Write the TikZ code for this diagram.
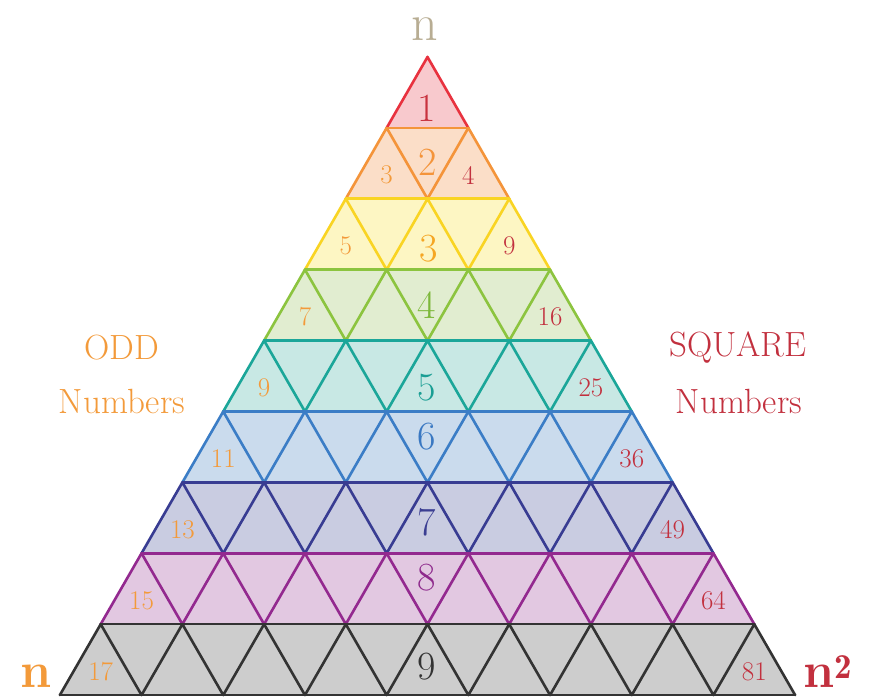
\documentclass[tikz,border=0pt]{standalone}
\usepackage{fontspec}
\definecolor{s1}{HTML}{E8323F}\definecolor{f1}{HTML}{F8C9CD}
\definecolor{s2}{HTML}{F4943A}\definecolor{f2}{HTML}{FBDEC8}
\definecolor{s3}{HTML}{F9D423}\definecolor{f3}{HTML}{FDF6C3}
\definecolor{s4}{HTML}{8CC43F}\definecolor{f4}{HTML}{E1EDD0}
\definecolor{s5}{HTML}{1BA699}\definecolor{f5}{HTML}{C8E8E4}
\definecolor{s6}{HTML}{3B7DC6}\definecolor{f6}{HTML}{CADBED}
\definecolor{s7}{HTML}{383C92}\definecolor{f7}{HTML}{C9CCE1}
\definecolor{s8}{HTML}{93298F}\definecolor{f8}{HTML}{E2C8E1}
\definecolor{s9}{HTML}{333333}\definecolor{f9}{HTML}{CDCDCD}
\definecolor{t1}{HTML}{C8323E}\definecolor{t2}{HTML}{F4943A}
\definecolor{t3}{HTML}{F5A623}\definecolor{t4}{HTML}{7DB83A}
\definecolor{t5}{HTML}{1A9E94}\definecolor{t6}{HTML}{3A78C2}
\definecolor{t7}{HTML}{3B3E92}\definecolor{t8}{HTML}{8E2A8C}
\definecolor{t9}{HTML}{333333}
\definecolor{oddc}{HTML}{F39A3A}
\definecolor{sqc}{HTML}{C2303E}
\definecolor{topn}{HTML}{B8AD93}
\begin{document}
\begin{tikzpicture}[x=1pt,y=1pt,
  tri/.style={line width=2.6pt,line join=round,line cap=round},
  bignum/.style={font=\fontsize{40}{40}\selectfont,inner sep=0pt},
  sidenum/.style={font=\fontsize{27}{27}\selectfont,inner sep=0pt},
  lab/.style={font=\fontsize{35}{35}\selectfont,inner sep=0pt}]
\useasboundingbox[fill=white] (0,0) rectangle (879,698);
\def\cx{427.5}\def\w{81.7}\def\h{70.9}
\foreach \k in {1,...,9}{
  \pgfmathsetmacro\yt{641-(\k-1)*\h}
  \pgfmathsetmacro\yb{\yt-\h}
  \pgfmathsetmacro\xtl{\cx-(\k-1)*\w/2}
  \pgfmathsetmacro\xtr{\cx+(\k-1)*\w/2}
  \pgfmathsetmacro\xbl{\cx-\k*\w/2}
  \pgfmathsetmacro\xbr{\cx+\k*\w/2}
  \fill[fill=f\k] (\xbl,\yb) -- (\xbr,\yb) -- (\xtr,\yt) -- (\xtl,\yt) -- cycle;
  \draw[tri,draw=s\k] (\xtl,\yt) -- (\xtr,\yt);
  \draw[tri,draw=s\k] (\xbl,\yb) -- (\xbr,\yb);
  \draw[tri,draw=s\k] (\xbl,\yb) \foreach \j in {1,...,\k}{ -- ({\xbl+(\j-0.5)*\w},\yt) -- ({\xbl+\j*\w},\yb) };
}
% centre numbers
\node[bignum,text=t1] (c1) at (427,590) {1};
\node[bignum,text=t2] (c2) at (428,536) {2};
\node[bignum,text=t3] (c3) at (429,449) {3};
\node[bignum,text=t4] (c4) at (427,393) {4};
\node[bignum,text=t5] (c5) at (427,310) {5};
\node[bignum,text=t6] (c6) at (427,261) {6};
\node[bignum,text=t7] (c7) at (427,176) {7};
\node[bignum,text=t8] (c8) at (427,120) {8};
\node[bignum,text=t9] (c9) at (427,31) {9};
% odd numbers
\foreach \k/\v in {2/3,3/5,4/7,5/9,6/11,7/13,8/15,9/17}{
  \node[sidenum,text=oddc] (o\k) at ({\cx-(\k-1)*\w/2},{641-\k*\h+\h/3}) {\v};
}
% square numbers
\foreach \k/\v in {2/4,3/9,4/16,5/25,6/36,7/49,8/64,9/81}{
  \node[sidenum,text=sqc] (q\k) at ({\cx+(\k-1)*\w/2},{641-\k*\h+\h/3}) {\v};
}
\node[lab,text=oddc] (odd1) at (122,350) {ODD};
\node[lab,text=oddc] (odd2) at (122,296) {Numbers};
\node[lab,text=sqc] (sq1) at (738,350) {SQUARE};
\node[lab,text=sqc] (sq2) at (739,296) {Numbers};
\node[inner sep=0pt,text=topn,font=\fontsize{52}{52}\selectfont,anchor=base] (ntop) at (425,657) {n};
\node[inner sep=0pt,text=oddc,font=\bfseries\fontsize{50}{50}\selectfont,anchor=base] (nleft) at (36,10) {n};
\node[inner sep=0pt,text=sqc,font=\bfseries\fontsize{50}{50}\selectfont,anchor=base west] (nright) at (803,10) {n$^{\mathbf{2}}$};
\end{tikzpicture}
\end{document}
